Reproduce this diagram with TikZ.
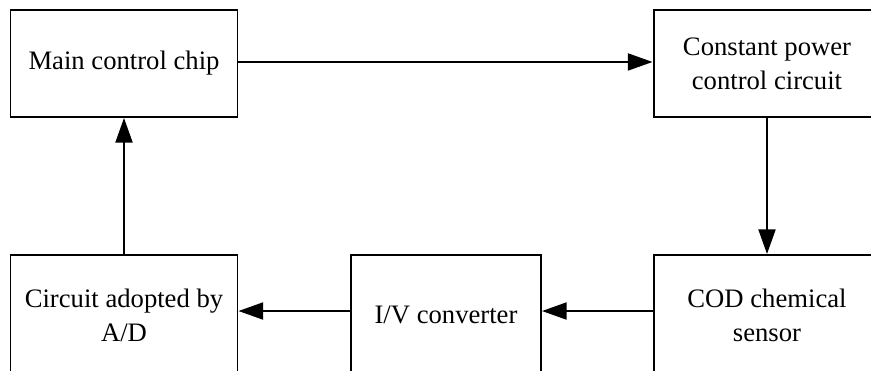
\documentclass[tikz,border=0pt]{standalone}
\usepackage{fontspec}
\setmainfont{Liberation Serif}
\usetikzlibrary{arrows.meta}

\tikzset{
	blockbox/.style={draw, line width=1.7pt, rectangle, inner sep=0pt, align=center,
		minimum width=227*0.03cm, minimum height=107*0.03cm,
		font=\fontsize{22.75}{29}\selectfont},
	flowarrow/.style={line width=1.7pt, -{Triangle[length=21pt, width=14.5pt]}}
}

\begin{document}
\begin{tikzpicture}[x=0.03cm, y=-0.03cm]
			%%%%% START %%%%%
			
			\useasboundingbox (0, 0) rectangle (871, 371);
			\clip (0, 0) rectangle (871, 371);
			
			\node[blockbox] (chip) at (124, 63.5) {Main control chip};
			\node[blockbox] (power) at (767, 63.5) {Constant power\\control circuit};
			
			\node[blockbox, minimum height=120*0.03cm] (sensor) at (767, 315) {COD chemical\\sensor};
			\node[blockbox, minimum height=120*0.03cm, minimum width=190*0.03cm] (conv) at (446, 315) {I/V converter};
			\node[blockbox, minimum height=120*0.03cm] (adc) at (124, 315) {Circuit adopted by\\A/D};
			
			\draw[flowarrow] ([yshift=1.3pt]chip.east) -- ([yshift=1.3pt]power.west);
			\draw[flowarrow] (power) -- (sensor);
			\draw[flowarrow] ([yshift=3.4pt]sensor.west) -- ([yshift=3.4pt]conv.east);
			\draw[flowarrow] ([yshift=3.4pt]conv.west) -- ([yshift=3.4pt]adc.east);
			\draw[flowarrow] (adc) -- (chip);
			
			%%%%% END %%%%%
		\end{tikzpicture}
\end{document}
